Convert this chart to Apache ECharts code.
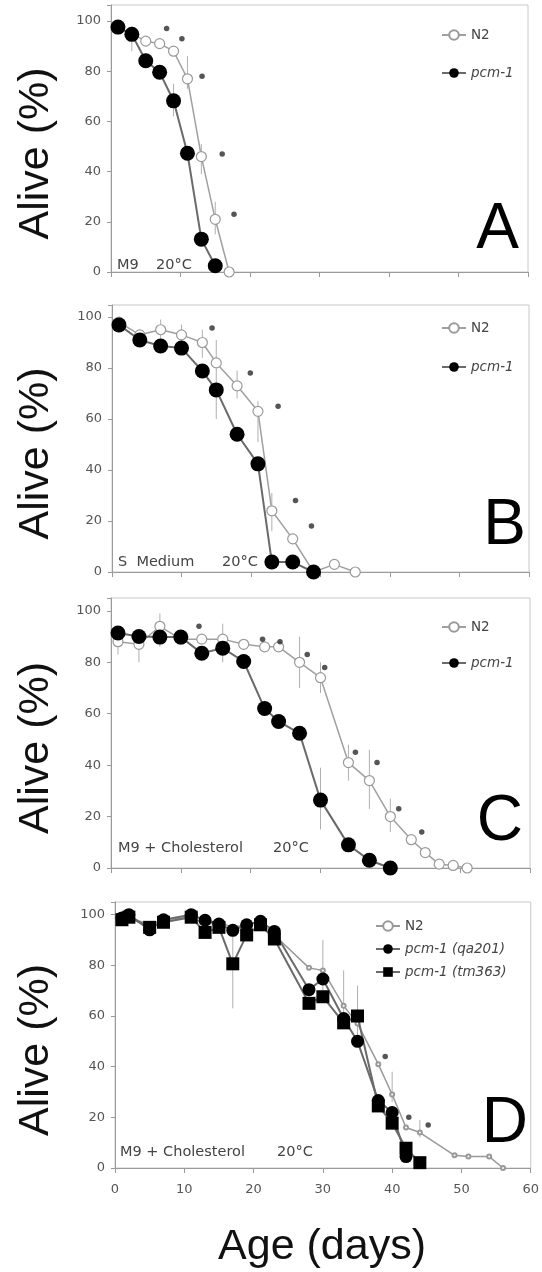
<!DOCTYPE html>
<html>
<head>
<meta charset="utf-8">
<script src="https://cdn.jsdelivr.net/npm/echarts@6/dist/echarts.min.js"></script>
<style>
html,body{margin:0;padding:0;background:#fff;}
#c{width:542px;height:1272px;}
</style>
</head>
<body>
<div id="c"></div>
<script>
// ---- Data ----
const xTicks = [0, 10, 20, 30, 40, 50, 60];
const yTicks = [0, 20, 40, 60, 80, 100];

// Panel A: M9 20°C
const aN2Days = [1, 3, 5, 7, 9, 11, 13, 15, 17];
const aN2 = [97, 95, 92, 91, 88, 77, 46, 21, 0];
const aPcmDays = [1, 3, 5, 7, 9, 11, 13, 15];
const aPcm = [97.6, 94.7, 84.2, 79.6, 68.2, 47.3, 13.1, 2.5];
const aStarDays = [8, 10.2, 13.1, 16, 17.7];
const aStar = [97, 93, 78, 47, 23];
const aErrDays = [3, 9, 11, 13, 15];
const aErrLo = [88, 62, 73, 39, 15];
const aErrHi = [98, 75, 86, 51, 28];

// Panel B: S Medium 20°C
const bN2Days = [1, 4, 7, 10, 13, 15, 18, 21, 23, 26, 29, 32, 35];
const bN2 = [98, 93, 95, 93, 90, 82, 73, 63, 24, 13, 0, 3, 0];
const bPcmDays = [1, 4, 7, 10, 13, 15, 18, 21, 23, 26, 29];
const bPcm = [96.9, 91, 88.6, 87.8, 78.8, 71.4, 54, 42.4, 3.9, 3.9, 0];
const bStarDays = [14.4, 19.9, 23.9, 26.4, 28.7];
const bStar = [95.7, 78, 65, 28, 18];
const bErrDays = [7, 10, 13, 15, 15, 18, 21, 23];
const bErrLo = [91, 88, 84, 74, 60, 68, 51, 16];
const bErrHi = [99, 97, 95, 91, 69, 79, 67, 31];

// Panel C: M9 + Cholesterol 20°C
const cN2Days = [1, 4, 7, 10, 13, 16, 19, 22, 24, 27, 30, 34, 37, 40, 43, 45, 47, 49, 51];
const cN2 = [88, 87, 94, 89, 89, 89, 87, 86, 86, 80, 74, 41, 34, 20, 11, 6, 1.5, 1, 0];
const cPcmDays = [1, 4, 7, 10, 13, 16, 19, 22, 24, 27, 30, 34, 37, 40];
const cPcm = [91.4, 90, 89.8, 89.8, 83.5, 85.5, 80.3, 62, 57, 52.4, 26.4, 9, 3, 0];
const cStarDays = [12.6, 21.7, 24.2, 28.1, 30.6, 35, 38.1, 41.2, 44.5];
const cStar = [94, 89, 88, 83, 78, 45, 41, 23, 14];
const cErrDays = [1, 4, 7, 16, 27, 30, 34, 37, 40, 30];
const cErrLo = [83, 80, 86, 80, 70, 68, 34, 23, 14, 15];
const cErrHi = [93, 92, 99, 95, 90, 80, 48, 46, 27, 39];

// Panel D: M9 + Cholesterol 20°C, two alleles
const dN2Days = [1, 2, 5, 7, 11, 13, 15, 17, 19, 21, 23, 28, 30, 33, 35, 38, 40, 42, 44, 49, 51, 54, 56];
const dN2 = [97, 99, 96, 98, 99, 96, 97, 95, 96, 97, 92, 79, 78, 64, 57, 41, 29, 16, 14, 5, 4.5, 4.5, 0];
const dQaDays = [1, 2, 5, 7, 11, 13, 15, 17, 19, 21, 23, 28, 30, 33, 35, 38, 40, 42];
const dQa = [98.7, 100, 94, 98, 100, 97.8, 96.3, 93.8, 96, 97.4, 93.4, 70.4, 74.6, 59, 50, 26.6, 21.9, 4.5];
const dTmDays = [1, 2, 5, 7, 11, 13, 15, 17, 19, 21, 23, 28, 30, 33, 35, 38, 40, 42, 44];
const dTm = [98, 99, 95, 97, 99, 93, 95, 80.6, 92, 96, 90.4, 65, 67.6, 57.3, 60, 24.5, 17.7, 7.8, 2.1];
const dStarDays = [39, 42.4, 45.2];
const dStar = [44, 20, 17];
const dErrDays = [17, 30, 33, 35, 40, 44];
const dErrLo = [63, 70, 55, 48, 26, 12];
const dErrHi = [96, 90, 78, 72, 38, 19];

// ---- Layout ----
const panels = [
  {left: 111, top: 5,   width: 417, height: 267, max: 106.4, letter: 'A', lx: 519, ly: 230, cond: ['M9', '20°C'], cx: [117, 156], cy: 265, legTop: 23, legGap: 24},
  {left: 112, top: 305, width: 417, height: 267, max: 104.7, letter: 'B', lx: 526, ly: 526, cond: ['S  Medium', '20°C'], cx: [118, 222], cy: 562, legTop: 316, legGap: 25},
  {left: 111, top: 598, width: 419, height: 270, max: 105,   letter: 'C', lx: 523, ly: 822, cond: ['M9 + Cholesterol', '20°C'], cx: [118, 273], cy: 848, legTop: 615, legGap: 22},
  {left: 115, top: 902, width: 417, height: 266, max: 105,   letter: 'D', lx: 528, ly: 1124, cond: ['M9 + Cholesterol', '20°C'], cx: [120, 277], cy: 1152, legTop: 914, legGap: 9}
];

const zip = (xs, ys) => xs.map((x, i) => [x, ys[i]]);
const zip3 = (xs, a, b) => xs.map((x, i) => [x, a[i], b[i]]);
const FONT = 'DejaVu Sans';

const grids = [], xAxes = [], yAxes = [], series = [], legends = [], graphics = [];

panels.forEach((p, i) => {
  grids.push({left: p.left, top: p.top, width: p.width, height: p.height, show: true,
    borderColor: '#c8c8c8', borderWidth: 1, backgroundColor: 'rgba(0,0,0,0)'});
  xAxes.push({gridIndex: i, type: 'value', min: xTicks[0], max: xTicks[xTicks.length - 1], interval: 10,
    axisLine: {onZero: false, lineStyle: {color: '#9a9a9a', width: 1}},
    axisTick: {show: true, inside: false, length: 5, lineStyle: {color: '#9a9a9a'}},
    axisLabel: {show: i === 3, margin: 15, color: '#555', fontFamily: FONT, fontSize: 13},
    splitLine: {show: false}});
  yAxes.push({gridIndex: i, type: 'value', min: 0, max: p.max, interval: 20,
    axisLine: {show: true, lineStyle: {color: '#9a9a9a', width: 1}},
    axisTick: {show: true, inside: false, length: 4, lineStyle: {color: '#9a9a9a'}},
    axisLabel: {margin: 10, color: '#555', fontFamily: FONT, fontSize: 13,
      formatter: v => (yTicks.indexOf(Math.round(v)) >= 0 && Math.abs(v - Math.round(v)) < 1e-6) ? String(Math.round(v)) : ''},
    splitLine: {show: false}});

  // Letter
  graphics.push({type: 'text', z: 100, style: {text: p.letter, x: p.lx, y: p.ly, align: 'right', verticalAlign: 'middle',
    font: '64px "Liberation Sans"', fill: '#000'}});
  // Y axis title
  graphics.push({type: 'text', z: 100, x: 36, y: p.top + p.height / 2 + 15, rotation: Math.PI / 2,
    style: {text: 'Alive (%)', x: 0, y: 0, align: 'center', verticalAlign: 'middle', font: '43px "Liberation Sans"', fill: '#111'}});
  // Condition text
  p.cond.forEach((t, k) => {
    graphics.push({type: 'text', z: 100, style: {text: t, x: p.cx[k], y: p.cy, align: 'left', verticalAlign: 'middle',
      font: '14.5px "DejaVu Sans"', fill: '#444'}});
  });
});

graphics.push({type: 'text', z: 100, style: {text: 'Age (days)', x: 322, y: 1247, align: 'center', verticalAlign: 'middle',
  font: '43px "Liberation Sans"', fill: '#111'}});

function errSeries(i, data) {
  return {type: 'custom', xAxisIndex: i, yAxisIndex: i, silent: true, z: 1, data: data,
    renderItem: (params, api) => {
      const p1 = api.coord([api.value(0), api.value(1)]);
      const p2 = api.coord([api.value(0), api.value(2)]);
      return {type: 'line', shape: {x1: p1[0], y1: p1[1], x2: p2[0], y2: p2[1]},
        style: {stroke: '#b0b0b0', lineWidth: 1}};
    }};
}
function starSeries(i, data) {
  return {type: 'scatter', xAxisIndex: i, yAxisIndex: i, data: data, symbol: 'circle', symbolSize: 5.5,
    itemStyle: {color: '#2a2a2a'}, z: 6, silent: true};
}
function n2Series(i, name, data) {
  return {type: 'line', name: name, xAxisIndex: i, yAxisIndex: i, data: data, symbol: 'circle', symbolSize: 10,
    showAllSymbol: true, lineStyle: {color: '#a0a0a0', width: 1.5},
    itemStyle: {color: '#fff', borderColor: '#9a9a9a', borderWidth: 1.2}, z: 3};
}
function pcmSeries(i, name, data, symbol, size) {
  return {type: 'line', name: name, xAxisIndex: i, yAxisIndex: i, data: data, symbol: symbol, symbolSize: size,
    showAllSymbol: true, lineStyle: {color: '#6a6a6a', width: 2},
    itemStyle: {color: '#000', borderColor: '#000', borderWidth: 0}, z: 4};
}

// Panel A
series.push(errSeries(0, zip3(aErrDays, aErrLo, aErrHi)));
series.push(n2Series(0, 'N2', zip(aN2Days, aN2)));
series.push(pcmSeries(0, 'pcm-1', zip(aPcmDays, aPcm), 'circle', 15));
series.push(starSeries(0, zip(aStarDays, aStar)));
// Panel B
series.push(errSeries(1, zip3(bErrDays, bErrLo, bErrHi)));
series.push(n2Series(1, 'N2', zip(bN2Days, bN2)));
series.push(pcmSeries(1, 'pcm-1', zip(bPcmDays, bPcm), 'circle', 15));
series.push(starSeries(1, zip(bStarDays, bStar)));
// Panel C
series.push(errSeries(2, zip3(cErrDays, cErrLo, cErrHi)));
series.push(n2Series(2, 'N2', zip(cN2Days, cN2)));
series.push(pcmSeries(2, 'pcm-1', zip(cPcmDays, cPcm), 'circle', 15));
series.push(starSeries(2, zip(cStarDays, cStar)));
// Panel D
series.push(errSeries(3, zip3(dErrDays, dErrLo, dErrHi)));
series.push({type: 'line', name: 'N2 ', xAxisIndex: 3, yAxisIndex: 3, data: zip(dN2Days, dN2), symbol: 'emptyCircle',
  symbolSize: 4, showAllSymbol: true, lineStyle: {color: '#999', width: 1.5},
  itemStyle: {color: '#999', borderColor: '#999'}, z: 3});
series.push(pcmSeries(3, 'pcm-1 (qa201)', zip(dQaDays, dQa), 'circle', 13));
series.push(pcmSeries(3, 'pcm-1 (tm363)', zip(dTmDays, dTm), 'rect', 13));
series.push(starSeries(3, zip(dStarDays, dStar)));

const legRich = {n: {fontFamily: FONT, fontSize: 13.5, color: '#444'}, i: {fontFamily: FONT, fontSize: 13.5, color: '#444', fontStyle: 'italic'}};
[0, 1, 2].forEach(i => {
  const p = panels[i];
  legends.push({orient: 'vertical', left: 436, top: p.legTop, itemGap: p.legGap, itemWidth: 24, itemHeight: 12,
    data: ['N2', 'pcm-1'], selectedMode: false,
    formatter: n => n === 'N2' ? '{n|N2}' : '{i|' + n + '}', textStyle: {rich: legRich}});
});
legends.push({orient: 'vertical', left: 370, top: panels[3].legTop, itemGap: panels[3].legGap, itemWidth: 24, itemHeight: 12,
  data: ['N2 ', 'pcm-1 (qa201)', 'pcm-1 (tm363)'], selectedMode: false,
  formatter: n => n === 'N2 ' ? '{n|N2}' : '{i|' + n + '}', textStyle: {rich: legRich}});

const chart = echarts.init(document.getElementById('c'), null, {renderer: 'canvas'});
chart.setOption({
  animation: false,
  backgroundColor: '#fff',
  grid: grids, xAxis: xAxes, yAxis: yAxes, series: series, legend: legends, graphic: graphics
});
</script>
</body>
</html>
